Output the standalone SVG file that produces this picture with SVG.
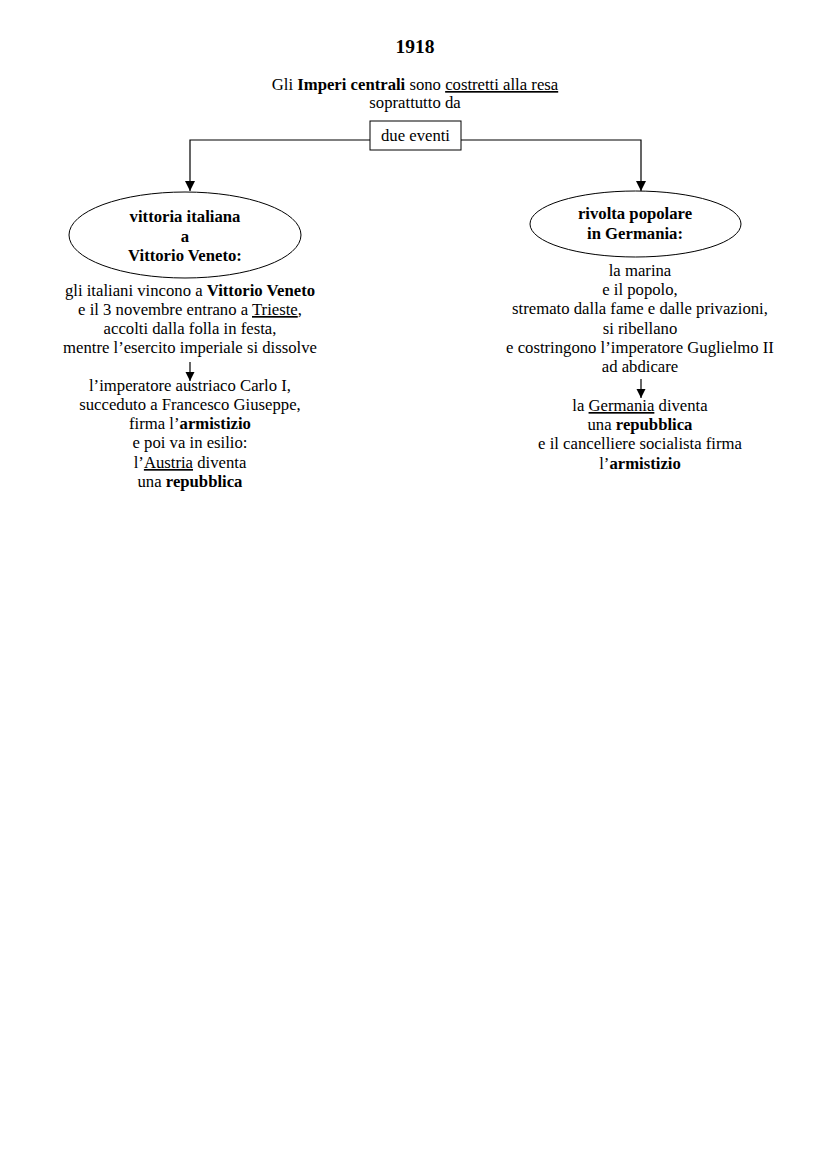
<svg xmlns="http://www.w3.org/2000/svg" width="828" height="1171" viewBox="0 0 828 1171">
<defs>
<style>
text{font-family:"Liberation Serif","Times New Roman",serif;font-size:16.7px;fill:#000;text-anchor:middle}
.b{font-weight:bold}
.u{text-decoration:underline}
.t{font-size:19.5px;font-weight:bold}
.ln{stroke:#000;stroke-width:1.2;fill:none}
.sh{stroke:#000;stroke-width:1;fill:#fff}
</style>
<marker id="ah" markerWidth="11" markerHeight="11" refX="10" refY="5" orient="auto" markerUnits="userSpaceOnUse">
<path d="M0,0 L10,5 L0,10 Z" fill="#000"/>
</marker>
<marker id="ahs" markerWidth="10" markerHeight="10" refX="9" refY="4.5" orient="auto" markerUnits="userSpaceOnUse">
<path d="M0,0 L9,4.5 L0,9 Z" fill="#000"/>
</marker>
</defs>
<rect width="828" height="1171" fill="#fff"/>
<g id="title">
<text class="t" x="415" y="53">1918</text>
<text x="415" y="90">Gli <tspan class="b">Imperi centrali</tspan> sono <tspan class="u">costretti alla resa</tspan></text>
<text x="415" y="108">soprattutto da</text>
</g>
<g id="connectors">
<path class="ln" d="M370,140 H190 V191" marker-end="url(#ah)"/>
<path class="ln" d="M461,140 H641 V191" marker-end="url(#ah)"/>
<path class="ln" d="M190,362 V381" marker-end="url(#ahs)"/>
<path class="ln" d="M641,379 V398" marker-end="url(#ahs)"/>
</g>
<g id="due-eventi">
<rect class="sh" x="370" y="121" width="91" height="29"/>
<text x="415.5" y="141">due eventi</text>
</g>
<g id="vittoria">
<ellipse class="sh" cx="185" cy="235" rx="116" ry="43"/>
<text class="b" x="185" y="222">vittoria italiana</text>
<text class="b" x="185" y="242">a</text>
<text class="b" x="185" y="261">Vittorio Veneto:</text>
</g>
<g id="vittoria-testo">
<text x="190" y="296">gli italiani vincono a <tspan class="b">Vittorio Veneto</tspan></text>
<text x="190" y="315">e il 3 novembre entrano a <tspan class="u">Trieste</tspan>,</text>
<text x="190" y="334">accolti dalla folla in festa,</text>
<text x="190" y="353">mentre l’esercito imperiale si dissolve</text>
<text x="190" y="391">l’imperatore austriaco Carlo I,</text>
<text x="190" y="410">succeduto a Francesco Giuseppe,</text>
<text x="190" y="429">firma l’<tspan class="b">armistizio</tspan></text>
<text x="190" y="448">e poi va in esilio:</text>
<text x="190" y="468">l’<tspan class="u">Austria</tspan> diventa</text>
<text x="190" y="487">una <tspan class="b">repubblica</tspan></text>
</g>
<g id="rivolta">
<ellipse class="sh" cx="635.5" cy="224" rx="105.5" ry="33"/>
<text class="b" x="635" y="219">rivolta popolare</text>
<text class="b" x="635" y="239">in Germania:</text>
</g>
<g id="rivolta-testo">
<text x="640" y="276">la marina</text>
<text x="640" y="295">e il popolo,</text>
<text x="640" y="314">stremato dalla fame e dalle privazioni,</text>
<text x="640" y="334">si ribellano</text>
<text x="640" y="353">e costringono l’imperatore Guglielmo II</text>
<text x="640" y="372">ad abdicare</text>
<text x="640" y="411">la <tspan class="u">Germania</tspan> diventa</text>
<text x="640" y="430">una <tspan class="b">repubblica</tspan></text>
<text x="640" y="449">e il cancelliere socialista firma</text>
<text x="640" y="469">l’<tspan class="b">armistizio</tspan></text>
</g>
</svg>
